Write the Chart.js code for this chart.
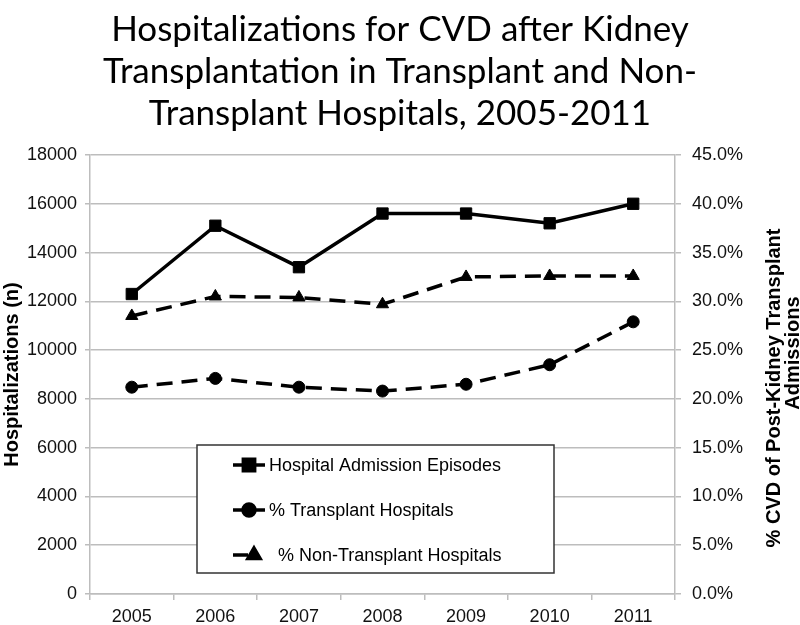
<!DOCTYPE html>
<html>
<head>
<meta charset="utf-8">
<script src="https://cdn.jsdelivr.net/npm/chart.js@4"></script>
<style>
  html, body { margin: 0; padding: 0; background: #fff; }
  #wrap { width: 800px; height: 625px; }
</style>
</head>
<body>
<div id="wrap"><canvas id="myGraph" width="800" height="625"></canvas></div>
<script>
// data
const years = ["2005", "2006", "2007", "2008", "2009", "2010", "2011"];
const admissions = [12300, 15100, 13400, 15600, 15600, 15200, 16000];
const pctTransplant = [21.2, 22.1, 21.2, 20.8, 21.5, 23.5, 27.9];
const pctNonTransplant = [28.5, 30.5, 30.4, 29.7, 32.5, 32.6, 32.6];
const seriesNames = ["Hospital Admission Episodes", "% Transplant Hospitals", "% Non-Transplant Hospitals"];
const titleLines = [
  "Hospitalizations for CVD after Kidney",
  "Transplantation in Transplant and Non-",
  "Transplant Hospitals, 2005-2011"
];
const leftTitle = "Hospitalizations (n)";
const rightTitle = ["% CVD of Post-Kidney Transplant", "Admissions"];

const sansFont = "'Liberation Sans', Arial, sans-serif";
const gridGrey = "#bdbdbd";

// legend box drawn inside the plot, and the right axis title read bottom-up
const extrasPlugin = {
  id: "extras",
  afterDraw(chart) {
    const ctx = chart.ctx;
    ctx.save();
    // legend
    const bx = 197, by = 445, bw = 357, bh = 128;
    ctx.fillStyle = "#fff";
    ctx.fillRect(bx, by, bw, bh);
    ctx.strokeStyle = "#333";
    ctx.lineWidth = 1.5;
    ctx.strokeRect(bx, by, bw, bh);
    const rows = [465, 510, 555];
    chart.data.datasets.forEach((ds, i) => {
      const y = rows[i];
      ctx.strokeStyle = "#000";
      ctx.lineWidth = 3.5;
      ctx.setLineDash([]);
      ctx.beginPath();
      if (i === 2) {
        ctx.moveTo(233, y); ctx.lineTo(248, y);
      } else {
        ctx.moveTo(233, y); ctx.lineTo(265, y);
      }
      ctx.stroke();
      Chart.helpers.drawPoint(ctx, {
        pointStyle: ds.pointStyle,
        radius: ds.pointRadius,
        rotation: 0,
        borderWidth: 1
      }, i === 2 ? 254 : 249, y);
      ctx.fillStyle = "#000";
      ctx.fill();
      ctx.font = "18px " + sansFont;
      ctx.textBaseline = "middle";
      ctx.textAlign = "left";
      ctx.fillText(ds.label, i === 2 ? 278 : 269, y + 1);
    });
    // right axis title
    ctx.font = "bold 20px " + sansFont;
    ctx.fillStyle = "#000";
    ctx.textAlign = "center";
    ctx.textBaseline = "middle";
    ctx.translate(774, 388);
    ctx.rotate(-Math.PI / 2);
    ctx.fillText(rightTitle[0], 0, 0);
    ctx.fillText(rightTitle[1], 35, 19);
    ctx.restore();
  }
};

const ctx = document.getElementById("myGraph");
new Chart(ctx, {
  type: "line",
  data: {
    labels: years,
    datasets: [
      {
        label: seriesNames[0],
        data: admissions,
        yAxisID: "y",
        borderColor: "#000",
        backgroundColor: "#000",
        borderWidth: 3.5,
        pointStyle: "rect",
        pointRadius: 8,
        pointBorderWidth: 1
      },
      {
        label: seriesNames[1],
        data: pctTransplant,
        yAxisID: "y1",
        borderColor: "#000",
        backgroundColor: "#000",
        borderWidth: 3.5,
        borderDash: [16, 9],
        pointStyle: "circle",
        pointRadius: 6,
        pointBorderWidth: 1
      },
      {
        label: seriesNames[2],
        data: pctNonTransplant,
        yAxisID: "y1",
        borderColor: "#000",
        backgroundColor: "#000",
        borderWidth: 3.5,
        borderDash: [16, 9],
        pointStyle: "triangle",
        pointRadius: 7,
        pointBorderWidth: 1
      }
    ]
  },
  options: {
    responsive: false,
    animation: false,
    events: [],
    layout: { padding: { left: 0, right: 0, top: 0, bottom: 0 } },
    plugins: {
      legend: { display: false },
      tooltip: { enabled: false },
      title: {
        display: true,
        text: titleLines,
        color: "#000",
        font: { family: "Lato, 'Open Sans', sans-serif", size: 35, weight: "normal", lineHeight: 1.2 },
        padding: { top: 9, bottom: 20 }
      }
    },
    scales: {
      x: {
        offset: true,
        grid: { offset: true, drawOnChartArea: false, drawTicks: true, tickLength: 6, color: gridGrey, lineWidth: 1.5 },
        border: { color: gridGrey, width: 1.5 },
        ticks: { color: "#111", padding: 6, font: { family: sansFont, size: 18 } },
        afterFit(scale) { scale.height = 31; }
      },
      y: {
        position: "left",
        min: 0,
        max: 18000,
        ticks: {
          stepSize: 2000,
          color: "#111",
          padding: 8,
          font: { family: sansFont, size: 18 },
          callback: (v) => String(v)
        },
        grid: { color: gridGrey, lineWidth: 1.5, tickLength: 5 },
        border: { color: gridGrey, width: 1.5 },
        title: {
          display: true,
          text: leftTitle,
          color: "#000",
          font: { family: sansFont, size: 20, weight: "bold" },
          padding: 0
        },
        afterFit(scale) { scale.width = 90; }
      },
      y1: {
        position: "right",
        min: 0,
        max: 45,
        ticks: {
          stepSize: 5,
          color: "#111",
          padding: 11,
          font: { family: sansFont, size: 18 },
          callback: (v) => v.toFixed(1) + "%"
        },
        grid: { drawOnChartArea: false, color: gridGrey, lineWidth: 1.5, tickLength: 6 },
        border: { color: gridGrey, width: 1.5 },
        afterFit(scale) { scale.width = 125; }
      }
    }
  },
  plugins: [extrasPlugin]
});
</script>
</body>
</html>
